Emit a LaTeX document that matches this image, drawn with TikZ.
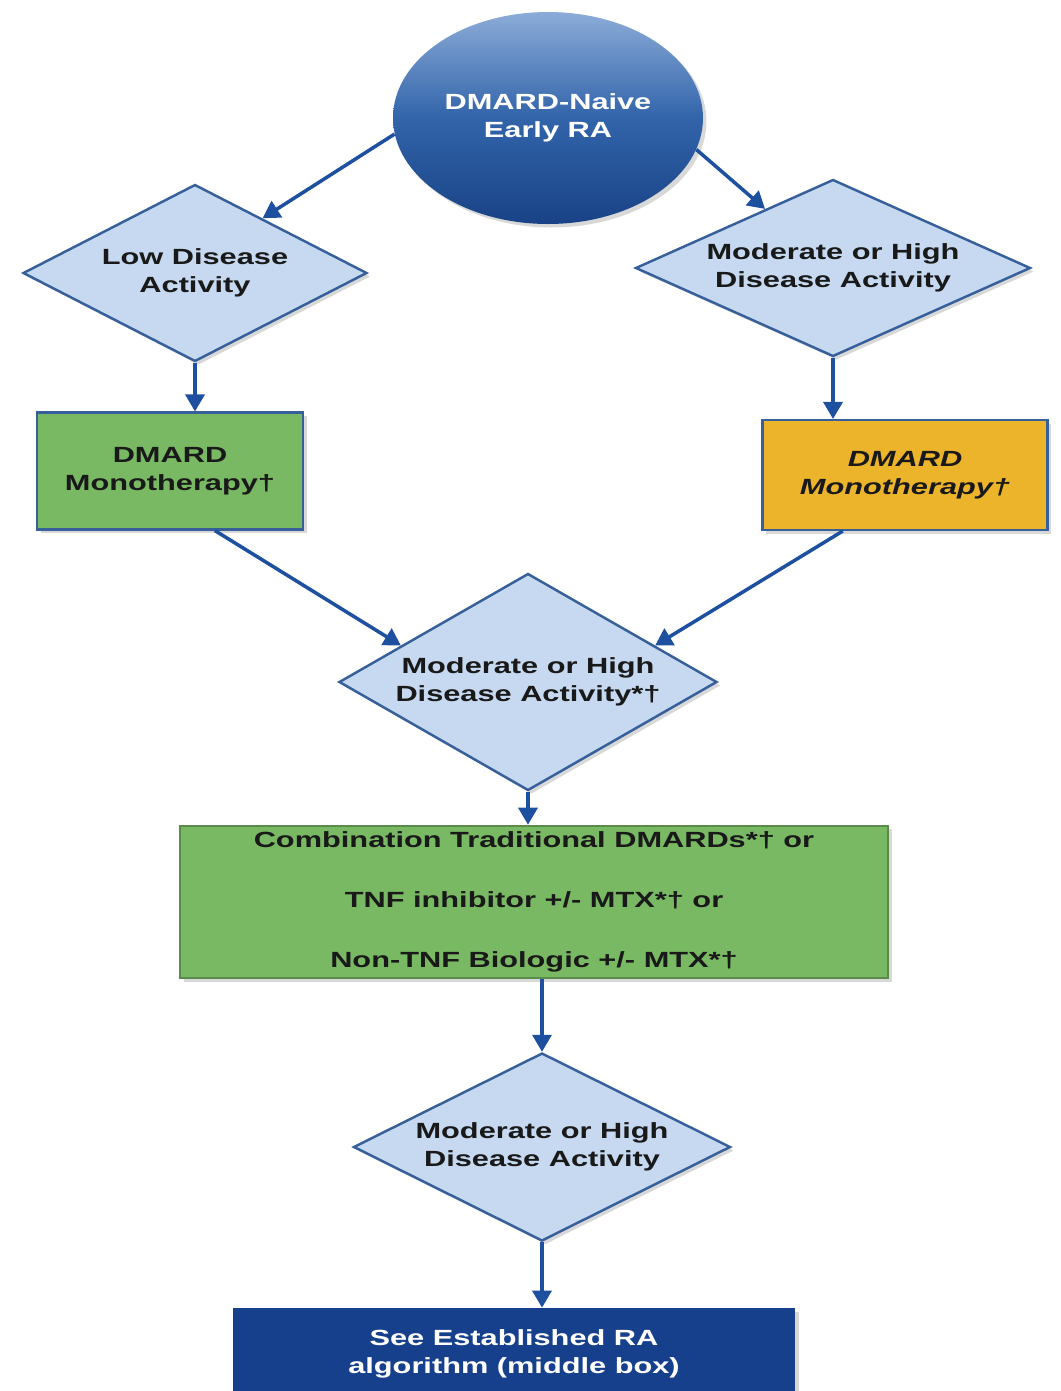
\documentclass[tikz,border=0pt]{standalone}
\usepackage{fontspec}
\newfontfamily\chartfont{Liberation Sans}[FakeStretch=1.4]
\usepackage{xcolor}
\usepackage{tikz}
\usetikzlibrary{arrows.meta,shapes.geometric,shadows}

\definecolor{diafill}{RGB}{198,217,240}
\definecolor{edgeblue}{RGB}{55,96,155}
\definecolor{arrowblue}{RGB}{30,80,160}
\definecolor{boxgreen}{RGB}{122,185,100}
\definecolor{boxorange}{RGB}{236,180,42}
\definecolor{navy}{RGB}{22,64,140}
\definecolor{ovaltop}{RGB}{140,172,216}
\definecolor{ovalmid}{RGB}{50,100,170}
\definecolor{ovalbot}{RGB}{25,66,134}

\tikzset{
    chart/.style={font=\chartfont\bfseries\fontsize{12.5}{16}\selectfont,
                  align=center, text=black!90},
    shadowed/.style={drop shadow={shadow xshift=0.07cm, shadow yshift=-0.07cm, opacity=0.3}},
    decision/.style={chart, diamond, aspect=2, inner sep=0pt,
                     draw=edgeblue, line width=1.4pt, fill=diafill, shadowed},
    treat/.style={chart, rectangle, draw=edgeblue, line width=1.2pt, shadowed}
}

\begin{document}
\begin{tikzpicture}[->,>={Triangle[length=0.34cm,width=0.38cm]}]

    \useasboundingbox[fill=white] (0,0) rectangle (21.22,-27.82);

    \node[ellipse,
          chart,
          text = white,
          top color = ovaltop,
          bottom color = ovalbot,
          middle color = ovalmid,
          minimum width = 6.2cm,
          minimum height = 4.24cm,
          shadowed
          ] (naive) at (10.96,-2.36) {DMARD-Naive\\Early RA};

    \node[decision,
          minimum width = 6.88cm,
          minimum height = 3.54cm
          ] (low) at (3.9,-5.46) {Low Disease\\Activity};

    \node[decision,
          minimum width = 7.9cm,
          minimum height = 3.54cm
          ] (modhigh) at (16.66,-5.36) {Moderate or High\\Disease Activity};

    \node[treat,
          fill = boxgreen,
          minimum width = 5.32cm,
          minimum height = 2.34cm
          ] (dmardl) at (3.4,-9.42) {DMARD\\Monotherapy†};

    \node[treat,
          fill = boxorange,
          font = \chartfont\bfseries\itshape\fontsize{12.5}{16}\selectfont,
          minimum width = 5.7cm,
          minimum height = 2.2cm
          ] (dmardr) at (18.1,-9.5) {DMARD\\Monotherapy†};

    \node[decision,
          minimum width = 7.56cm,
          minimum height = 4.34cm
          ] (mid) at (10.56,-13.64) {Moderate or High\\Disease Activity*†};

    \node[treat,
          fill = boxgreen,
          draw = boxgreen!75!black,
          minimum width = 14.16cm,
          minimum height = 2.94cm
          ] (combo) at (10.68,-18.04) {Combination Traditional DMARDs*† or\\[0.64cm]
                                       TNF inhibitor +/- MTX*† or\\[0.64cm]
                                       Non-TNF Biologic +/- MTX*†};

    \node[decision,
          minimum width = 7.54cm,
          minimum height = 3.76cm
          ] (final) at (10.84,-22.94) {Moderate or High\\Disease Activity};

    \node[rectangle,
          chart,
          text = white,
          fill = navy,
          minimum width = 11.24cm,
          minimum height = 1.84cm,
          shadowed
          ] (est) at (10.28,-27.08) {See Established RA\\algorithm (middle box)};


    \path[every edge/.style={draw=arrowblue, line width=2pt}]
    %first split
    (naive.186) edge (low.39)
    (naive.348) edge (modhigh.139)
    (low.south) edge (low.south |- dmardl.north)
    (modhigh.south) edge (modhigh.south |- dmardr.north)
    %back together
    (dmardl.307) edge (mid.164)
    (dmardr.222) edge (mid.16)
    (mid.south) edge (mid.south |- combo.north)
    (final.north |- combo.south) edge (final.north)
    (final.south) edge (final.south |- est.north);

\end{tikzpicture}
\end{document}
